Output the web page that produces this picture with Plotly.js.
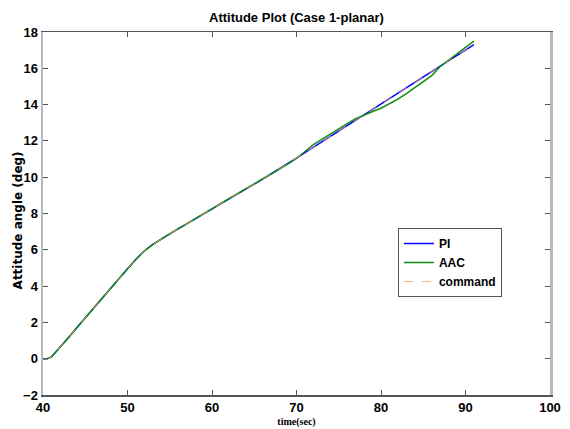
<!DOCTYPE html>
<html>
<head>
<meta charset="utf-8">
<script src="https://cdn.plot.ly/plotly-3.0.1.min.js"></script>
<style>html,body{margin:0;padding:0;background:#fff}#chart{width:570px;height:429px}</style>
</head>
<body>
<div id="chart"></div>
<script>
const time = [40,40.5,41,42,43,44,45,46,47,48,49,50,51,52,53,54,55,56,57,58,59,60,61,62,63,64,65,66,67,68,69,70,71,72,73,74,75,76,77,78,79,80,81,82,83,84,85,86,87,88,89,90,91];
const piVals = [0,0,0.1,0.6,1.15,1.7,2.25,2.8,3.35,3.9,4.42,4.95,5.48,5.95,6.3,6.6,6.88,7.15,7.42,7.7,7.98,8.25,8.52,8.8,9.08,9.35,9.62,9.9,10.18,10.46,10.75,11.05,11.35,11.65,11.95,12.25,12.55,12.85,13.15,13.45,13.75,14.03,14.33,14.63,14.93,15.22,15.52,15.82,16.12,16.42,16.71,17.0,17.3];
const aacVals = [0,0,0.1,0.6,1.15,1.7,2.25,2.8,3.35,3.9,4.42,4.95,5.47,5.93,6.3,6.6,6.9,7.17,7.43,7.7,7.98,8.27,8.55,8.82,9.1,9.38,9.64,9.9,10.17,10.44,10.73,11.03,11.4,11.8,12.08,12.38,12.66,12.95,13.22,13.43,13.62,13.8,14.04,14.3,14.6,14.92,15.25,15.6,16.1,16.45,16.8,17.15,17.5];
const cmdVals = [0,0,0.1,0.6,1.15,1.7,2.25,2.8,3.35,3.9,4.42,4.95,5.48,5.95,6.3,6.6,6.88,7.15,7.42,7.7,7.98,8.25,8.52,8.8,9.08,9.35,9.62,9.9,10.18,10.46,10.75,11.05,11.35,11.65,11.95,12.25,12.55,12.85,13.15,13.45,13.75,14.03,14.33,14.63,14.93,15.22,15.52,15.82,16.12,16.42,16.71,17.0,17.28];
const seriesNames = ["PI","AAC","command"];

const sans = "Liberation Sans, Arial, sans-serif";
const traces = [
  {x: time, y: piVals, name: seriesNames[0], mode: "lines", line: {color: "#0000ff", width: 1.5}},
  {x: time, y: aacVals, name: seriesNames[1], mode: "lines", line: {color: "#128c12", width: 1.5}},
  {x: time, y: cmdVals, name: seriesNames[2], mode: "lines", line: {color: "#f0a050", width: 1, dash: "dash"}, opacity: 0.8}
];
const axisCommon = {
  showgrid: false, zeroline: false, showline: true, mirror: "ticks",
  ticks: "inside", ticklen: 5, tickcolor: "#555",
  tickfont: {family: sans, size: 13, color: "#000", weight: "bold"}
};
const layout = {
  width: 570, height: 429,
  margin: {l: 43, r: 20, t: 32, b: 34},
  paper_bgcolor: "#fff", plot_bgcolor: "#fff",
  title: {text: "<b>Attitude Plot (Case 1-planar)</b>", x: 0.52, xanchor: "center", y: 0.96, yanchor: "middle",
          font: {family: sans, size: 13, color: "#000"}},
  xaxis: Object.assign({}, axisCommon, {range: [40, 100], dtick: 10, tick0: 40, linecolor: "#555", linewidth: 1.5,
          title: {text: "<b>time(sec)</b>", standoff: 4, font: {family: "Liberation Serif, serif", size: 10, color: "#000"}}}),
  yaxis: Object.assign({}, axisCommon, {range: [-2, 18], dtick: 2, tick0: -2, linecolor: "#b8b8b8", linewidth: 2.5}),
  annotations: [{
    text: "<b>Attitude angle (deg)</b>", textangle: -90, xref: "paper", yref: "paper",
    x: -0.05, y: 0.48, xanchor: "center", yanchor: "middle", showarrow: false,
    font: {family: "DejaVu Sans, sans-serif", size: 12, color: "#000"}
  }],
  showlegend: true,
  legend: {x: 0.7, y: 0.46, xanchor: "left", yanchor: "top", bgcolor: "#fff", bordercolor: "#555", borderwidth: 1,
           font: {family: sans, size: 12, color: "#000", weight: "bold"}, tracegroupgap: 0, itemwidth: 30}
};
Plotly.newPlot("chart", traces, layout, {displayModeBar: false, staticPlot: true});
</script>
</body>
</html>
